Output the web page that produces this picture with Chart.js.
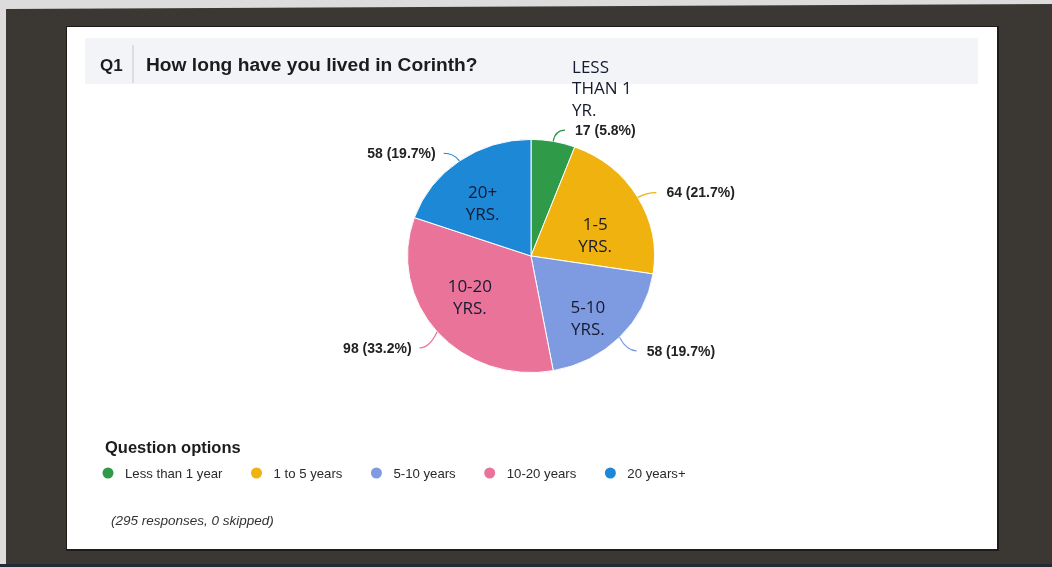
<!DOCTYPE html>
<html>
<head>
<meta charset="utf-8">
<script src="https://cdn.jsdelivr.net/npm/chart.js@4/dist/chart.umd.min.js"></script>
<style>
  html, body { margin: 0; padding: 0; background: #3b3733; overflow: hidden; }
  #wrap { width: 1052px; height: 567px; }
</style>
</head>
<body>
<div id="wrap"><canvas id="q1Pie" width="1052" height="567"></canvas></div>
<script>
// Q1 survey answers
const categories = ["Less than 1 year", "1 to 5 years", "5-10 years", "10-20 years", "20 years+"];
const responses = [17, 64, 58, 98, 58];
const skippedCount = 0;
const sliceNotes = ["", "1-5\nYRS.", "5-10\nYRS.", "10-20\nYRS.", "20+\nYRS."];
const outsideNote = "LESS\nTHAN 1\nYR.";
const questionNo = "Q1";
const questionText = "How long have you lived in Corinth?";

// look
const sliceColours = ["#2f9a47", "#efb20f", "#7e9be1", "#ea7399", "#1d88d6"];
const noteNudge = [[0, 0], [-2, 17], [2, 13], [-3, -5], [-4, 7]];
const calloutNudge = [-2, 0, 7, 10, 0];
const squashY = 0.944; // the photo is a bit wider than tall

const total = responses.reduce((a, b) => a + b, 0);
const pct = v => (v / total * 100).toFixed(1);

function sliceGeom(chart) {
    const arcs = chart.getDatasetMeta(0).data;
    return arcs.map(a => ({
        cx: a.x, cy: a.y, r: a.outerRadius,
        mid: (a.startAngle + a.endAngle) / 2
    }));
}
function at(g, rad) {
    return [g.cx + Math.cos(g.mid) * rad, g.cy + Math.sin(g.mid) * rad * squashY];
}

const pagePlugin = {
    id: "page",
    beforeDraw(chart) {
        const ctx = chart.ctx;
        ctx.save();
        // photo frame
        ctx.fillStyle = "#3b3733";
        ctx.fillRect(0, 0, 1052, 567);
        ctx.fillStyle = "#dcdcdc";
        ctx.beginPath();
        ctx.moveTo(0, 0); ctx.lineTo(1052, 0); ctx.lineTo(1052, 4); ctx.lineTo(6, 9); ctx.lineTo(6, 567); ctx.lineTo(0, 567);
        ctx.closePath(); ctx.fill();
        ctx.fillStyle = "#232a36";
        ctx.fillRect(0, 564, 1052, 3);
        // panel
        ctx.fillStyle = "#1e1b19";
        ctx.fillRect(66, 26, 933, 525);
        ctx.fillStyle = "#ffffff";
        ctx.fillRect(67, 27, 930, 522);
        // title band
        ctx.fillStyle = "#f3f4f7";
        ctx.fillRect(85, 38, 893, 46);
        ctx.strokeStyle = "#c8c8cc";
        ctx.lineWidth = 1;
        ctx.beginPath(); ctx.moveTo(133, 45); ctx.lineTo(133, 83); ctx.stroke();
        ctx.fillStyle = "#1c1c1c";
        ctx.textBaseline = "middle";
        ctx.textAlign = "left";
        ctx.font = "bold 17px 'Liberation Sans', Arial, sans-serif";
        ctx.fillText(questionNo, 100, 66);
        ctx.font = "bold 19.2px 'Liberation Sans', Arial, sans-serif";
        ctx.fillText(questionText, 146, 66);
        ctx.restore();
    },
    beforeDatasetsDraw(chart) {
        const ctx = chart.ctx;
        const g = sliceGeom(chart)[0];
        ctx.save();
        ctx.translate(g.cx, g.cy);
        ctx.scale(1, squashY);
        ctx.translate(-g.cx, -g.cy);
    },
    afterDatasetsDraw(chart) {
        const ctx = chart.ctx;
        ctx.restore();
        const geo = sliceGeom(chart);
        ctx.save();
        geo.forEach((g, i) => {
            // callout
            const p0 = at(g, g.r);
            const p1 = at(g, g.r + 10);
            p1[1] += calloutNudge[i];
            const right = Math.cos(g.mid) >= 0;
            const p2x = p1[0] + (right ? 10 : -10);
            ctx.strokeStyle = sliceColours[i];
            ctx.lineWidth = 1.2;
            ctx.beginPath();
            ctx.moveTo(p0[0], p0[1]);
            ctx.quadraticCurveTo(p1[0], p1[1], p2x, p1[1]);
            ctx.stroke();
            ctx.fillStyle = "#222222";
            ctx.font = "bold 14px 'Liberation Sans', Arial, sans-serif";
            ctx.textBaseline = "middle";
            ctx.textAlign = right ? "left" : "right";
            const tx = p2x + (right ? 10 : -8);
            const ty = p1[1] + 1;
            ctx.fillText(responses[i] + " (" + pct(responses[i]) + "%)", tx, ty);

            // hand-written notes
            ctx.fillStyle = "#161a30";
            ctx.font = "17px 'Open Sans', 'Noto Sans', sans-serif";
            if (sliceNotes[i]) {
                const c = at(g, g.r * 0.62);
                const lines = sliceNotes[i].split("\n");
                ctx.textAlign = "center";
                lines.forEach((ln, k) => {
                    ctx.fillText(ln, c[0] + noteNudge[i][0], c[1] + noteNudge[i][1] + (k - (lines.length - 1) / 2) * 22);
                });
            } else {
                const lines = outsideNote.split("\n");
                ctx.textAlign = "left";
                lines.forEach((ln, k) => {
                    ctx.fillText(ln, tx - 3, ty - 20 - (lines.length - 1 - k) * 21.5);
                });
            }
        });
        ctx.restore();
    },
    afterDraw(chart) {
        const ctx = chart.ctx;
        ctx.save();
        ctx.textBaseline = "middle";
        ctx.textAlign = "left";
        ctx.fillStyle = "#1c1c1c";
        ctx.font = "bold 16.5px 'Liberation Sans', Arial, sans-serif";
        ctx.fillText("Question options", 105, 448);
        // legend row
        ctx.font = "13.2px 'Liberation Sans', Arial, sans-serif";
        let x = 108;
        categories.forEach((c, i) => {
            ctx.fillStyle = sliceColours[i];
            ctx.beginPath(); ctx.arc(x, 473, 5.5, 0, Math.PI * 2); ctx.fill();
            ctx.fillStyle = "#2a2a2a";
            ctx.fillText(c, x + 17, 474);
            x += 17 + ctx.measureText(c).width + 34;
        });
        ctx.font = "italic 13.5px 'Liberation Sans', Arial, sans-serif";
        ctx.fillStyle = "#333333";
        ctx.fillText("(" + total + " responses, " + skippedCount + " skipped)", 111, 521);
        ctx.restore();
    }
};

new Chart(document.getElementById("q1Pie"), {
    type: "pie",
    data: {
        labels: categories,
        datasets: [{
            data: responses,
            backgroundColor: sliceColours,
            borderColor: "#ffffff",
            borderWidth: 1
        }]
    },
    options: {
        responsive: false,
        animation: false,
        layout: { padding: { left: 407, right: 397, top: 132, bottom: 187 } },
        plugins: {
            legend: { display: false },
            tooltip: { enabled: false }
        }
    },
    plugins: [pagePlugin]
});
</script>
</body>
</html>
